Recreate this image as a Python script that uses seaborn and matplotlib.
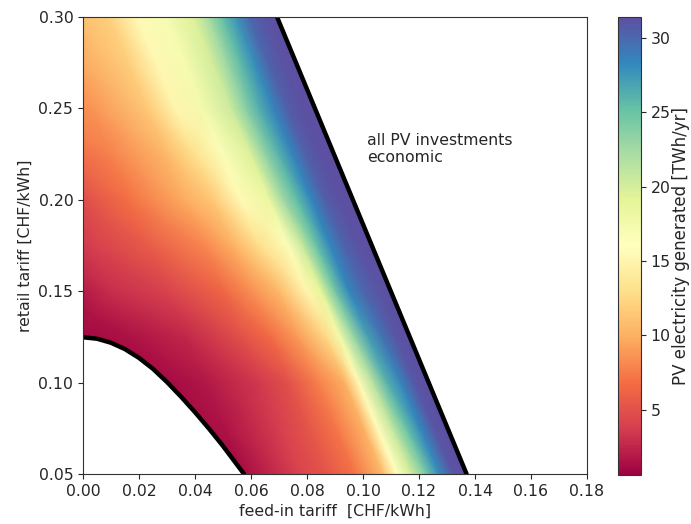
import numpy as np
import matplotlib
matplotlib.use("Agg")
import matplotlib.pyplot as plt
import seaborn as sns
from matplotlib.patches import Polygon

# %% values (PV electricity generated, TWh/yr)
# each row is sampled at fixed distances (in feed-in tariff) to the left of
# the "all PV investments economic" boundary line
retail = [0.050, 0.075, 0.100, 0.125, 0.150, 0.175,
          0.200, 0.225, 0.250, 0.275, 0.300]
dist = [-0.01, 0.0, 0.005, 0.01, 0.015, 0.02, 0.025, 0.03,
        0.04, 0.05, 0.06, 0.08, 0.10, 0.12, 0.14]

row_050 = [31.4, 31.4, 31.0, 28.0, 24.0, 20.0, 16.0, 10.5, 7.0, 5.2, 4.0, 1.2, 0.8, 0.8, 0.8]
row_075 = [31.4, 31.4, 31.0, 28.2, 25.0, 20.7, 15.7, 10.2, 7.2, 5.2, 3.8, 1.5, 0.8, 0.8, 0.8]
row_100 = [31.4, 31.4, 31.0, 28.5, 26.0, 21.5, 15.5, 10.0, 7.5, 5.0, 3.5, 1.8, 0.8, 0.8, 0.8]
row_125 = [31.4, 31.4, 31.0, 29.3, 27.0, 23.0, 17.5, 12.5, 9.0, 6.6, 5.0, 2.6, 1.5, 0.9, 0.8]
row_150 = [31.4, 31.4, 31.0, 30.0, 28.3, 24.6, 19.0, 15.0, 10.5, 8.3, 6.3, 4.0, 3.0, 1.0, 0.8]
row_175 = [31.4, 31.4, 31.1, 30.2, 28.3, 25.0, 20.5, 16.5, 13.0, 9.9, 8.0, 5.6, 3.8, 2.5, 2.0]
row_200 = [31.4, 31.4, 31.2, 30.5, 28.3, 25.5, 22.5, 18.5, 15.5, 11.5, 9.8, 6.9, 4.3, 3.5, 3.0]
row_225 = [31.4, 31.4, 31.2, 30.5, 28.4, 25.9, 23.0, 19.5, 16.5, 13.0, 10.5, 7.7, 6.0, 5.5, 5.0]
row_250 = [31.4, 31.4, 31.2, 30.5, 28.5, 26.3, 23.5, 20.5, 17.5, 15.0, 11.5, 8.6, 8.0, 7.5, 7.0]
row_275 = [31.4, 31.4, 31.1, 30.2, 28.0, 25.6, 22.7, 20.0, 17.2, 15.2, 11.8, 9.3, 8.8, 8.5, 8.0]
row_300 = [31.4, 31.4, 31.0, 30.0, 27.5, 25.0, 22.0, 19.5, 17.0, 15.5, 12.0, 10.0, 9.5, 9.0, 9.0]

# boundaries
upper_x = [0.0693, 0.137]
upper_y = [0.30, 0.05]
lower_x = [0.000, 0.005, 0.010, 0.015, 0.020, 0.025, 0.030,
           0.035, 0.040, 0.045, 0.050, 0.0575]
lower_y = [0.1248, 0.1240, 0.1218, 0.1183, 0.1135, 0.1075, 0.1003,
           0.0923, 0.0838, 0.0748, 0.0653, 0.050]

Z = np.array([row_050, row_075, row_100, row_125, row_150, row_175,
              row_200, row_225, row_250, row_275, row_300])

# grid sheared along the boundary line
slope = (upper_x[1] - upper_x[0]) / (upper_y[1] - upper_y[0])
R, D = np.meshgrid(retail, dist, indexing="ij")
X = upper_x[1] + slope * (R - upper_y[1]) - D

# %% plot
sns.set_style("ticks")
plt.rcParams["font.family"] = ["DejaVu Sans"]
fs = 11.3

fig = plt.figure(figsize=(6.91, 5.24), dpi=100)
ax = fig.add_axes([83 / 691, 50 / 524, 504 / 691, 457 / 524])
cax = fig.add_axes([618 / 691, 49 / 524, 23 / 691, 458 / 524])

mesh = ax.pcolormesh(X, R, Z, shading="gouraud", cmap="Spectral",
                     vmin=0.6, vmax=31.4, rasterized=True)

# clip the field to the region between the two boundaries
region = [(0.0, 0.30), (upper_x[0], 0.30), (upper_x[1], 0.05)]
region += list(zip(lower_x[::-1], lower_y[::-1]))
clip = Polygon(region, closed=True, transform=ax.transData,
               facecolor="none", edgecolor="none")
ax.add_patch(clip)
mesh.set_clip_path(clip)

sns.lineplot(x=upper_x, y=upper_y, color="black", lw=3.2, sort=False, ax=ax)
sns.lineplot(x=lower_x, y=lower_y, color="black", lw=3.2, sort=False, ax=ax,
             solid_joinstyle="round")

ax.text(0.1015, 0.2365, "all PV investments\neconomic", fontsize=fs,
        va="top", ha="left", linespacing=1.15)

ax.set_xlim(0, 0.18)
ax.set_ylim(0.05, 0.30)
ax.set_xticks(np.arange(0, 0.181, 0.02))
ax.set_yticks([0.05, 0.10, 0.15, 0.20, 0.25, 0.30])
ax.xaxis.set_major_formatter(plt.FormatStrFormatter("%.2f"))
ax.yaxis.set_major_formatter(plt.FormatStrFormatter("%.2f"))
ax.tick_params(labelsize=fs)
ax.set_xlabel("feed-in tariff  [CHF/kWh]", fontsize=fs)
ax.set_ylabel("retail tariff [CHF/kWh]", fontsize=fs)
for s in ax.spines.values():
    s.set_color("#333333")

cb = fig.colorbar(mesh, cax=cax, ticks=[5, 10, 15, 20, 25, 30])
cb.ax.tick_params(labelsize=fs)
cb.set_label("PV electricity generated [TWh/yr]", fontsize=12, labelpad=1)
cb.outline.set_edgecolor("#333333")

fig.savefig("out.png", dpi=100)
